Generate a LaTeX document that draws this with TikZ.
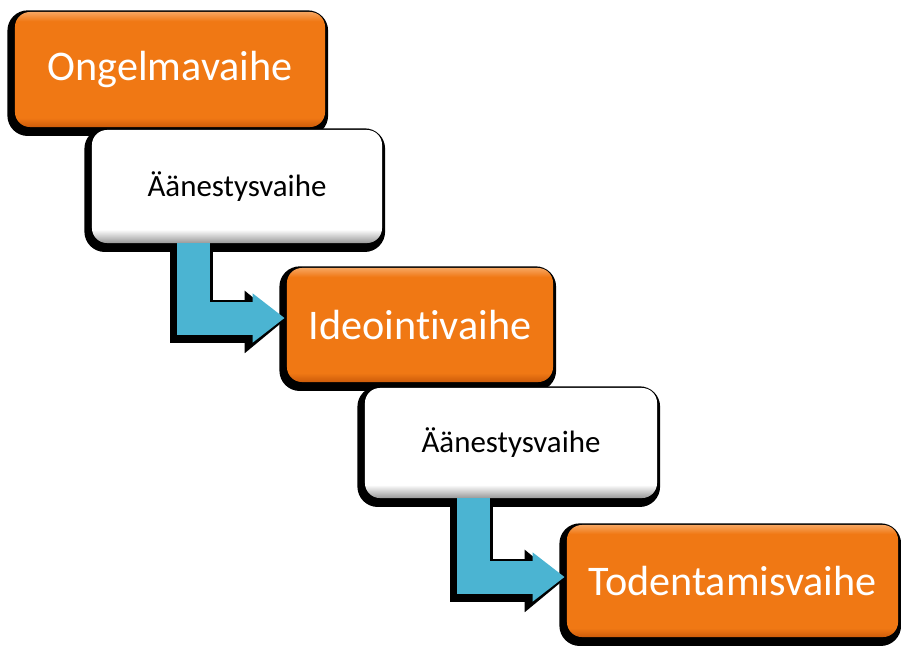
\documentclass[tikz,border=0pt]{standalone}
\usepackage{fontspec}
\setmainfont{Carlito}[Ligatures=CommonOff]
\usetikzlibrary{arrows.meta}

\definecolor{phaseorange}{RGB}{240,120,20}
\definecolor{phaselight}{RGB}{247,165,95}
\definecolor{phasedark}{RGB}{205,92,10}
\definecolor{flowblue}{RGB}{75,180,210}

% vertical face shadings (middle 25bp--75bp covers the box)
\pgfdeclareverticalshading{orangeface}{100bp}{color(0bp)=(phasedark); color(25bp)=(phasedark); color(29bp)=(phaseorange); color(71bp)=(phaseorange); color(75bp)=(phaselight); color(100bp)=(phaselight)}
\pgfdeclareverticalshading{whiteface}{100bp}{color(0bp)=(black!40); color(25bp)=(black!40); color(31bp)=(white); color(100bp)=(white)}

\tikzset{
  phase/.style={rounded corners=0.375cm, inner sep=0pt,
    preaction={fill=black, draw=black, line width=7.5pt,
      transform canvas={xshift=-1.6pt, yshift=-2.6pt}}},
  work/.style={phase, shading=orangeface, text=white,
    font=\fontsize{30}{36}\selectfont},
  vote/.style={phase, shading=whiteface, text=black,
    font=\fontsize{22}{26}\selectfont},
  flow/.style={line width=0.825cm, flowblue,
    -{Triangle[length=0.8cm, width=1.175cm]}},
  flowshadow/.style={line width=1.075cm, black,
    -{Triangle[length=0.95cm, width=1.5cm]},
    transform canvas={xshift=-1.4pt, yshift=-2.8pt}}
}

\begin{document}
\begin{tikzpicture}[x=0.025cm, y=-0.025cm]
\useasboundingbox (0,0) rectangle (901,646);

% The phase boxes
\node[work, minimum width=7.75cm, minimum height=2.875cm] (ongelma) at (170,69.5) {Ongelmavaihe};
\node[vote, minimum width=7.25cm, minimum height=2.825cm] (aanestys1) at (237,186.5) {Äänestysvaihe};
\node[work, minimum width=6.65cm, minimum height=2.85cm] (ideointi) at (420,325) {Ideointivaihe};
\node[vote, minimum width=7.3cm, minimum height=2.75cm] (aanestys2) at (511,443) {Äänestysvaihe};
\node[work, minimum width=8.275cm, minimum height=2.8cm] (todentaminen) at (732.5,581) {Todentamisvaihe};

% Bent arrows from the votes to the next phase
\draw[flowshadow] ([shift={(-43.5,0)}]aanestys1.south) |- ([shift={(-2,-7)}]ideointi.west);
\draw[flow] ([shift={(-43.5,0)}]aanestys1.south) |- ([shift={(-2,-7)}]ideointi.west);
\draw[flowshadow] ([shift={(-37.5,0)}]aanestys2.south) |- ([shift={(-2,-4)}]todentaminen.west);
\draw[flow] ([shift={(-37.5,0)}]aanestys2.south) |- ([shift={(-2,-4)}]todentaminen.west);
\end{tikzpicture}
\end{document}
